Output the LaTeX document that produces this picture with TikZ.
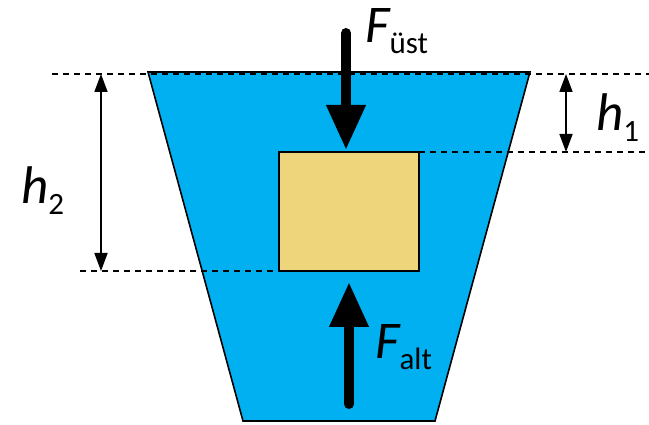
\documentclass[tikz,border=0pt]{standalone}
\usepackage{fontspec}
\setmainfont{Carlito}
\usetikzlibrary{arrows.meta}
\definecolor{waterblue}{HTML}{00B0F0}
\definecolor{boxyellow}{HTML}{EED57B}
\newcommand\sublbl[2]{{\fontsize{53}{53}\selectfont\itshape #1}{\fontsize{31}{31}\selectfont\raisebox{-11pt}{#2}}}
\begin{document}
\begin{tikzpicture}[x=1pt,y=-1pt,
  waterstyle/.style={fill=waterblue,draw=black,line width=1.6pt,line join=miter},
  blockstyle/.style={fill=boxyellow,draw=black,line width=1.5pt,minimum width=140pt,minimum height=119pt,inner sep=0pt},
  dashline/.style={draw=black,line width=1.6pt,dash pattern=on 6pt off 5pt},
  dimarrow/.style={draw=black,line width=1.6pt,{Triangle[width=13pt,length=18pt]}-{Triangle[width=13pt,length=18pt]}},
  forcearrow/.style={draw=black,line width=10pt,line cap=round,-{Triangle[width=37pt,length=45pt]}},
  lbl/.style={inner sep=0pt,anchor=base west}]
\useasboundingbox (0,0) rectangle (649,425);
% water
\draw[waterstyle] (148,72) -- (530,72) -- (435,421) -- (243,421) -- cycle;
% block
\node[blockstyle] (block) at (349,211.5) {};
% reference coordinates
\coordinate (topL) at (52,74);
\coordinate (topR) at (649,74);
\coordinate (midL) at (419,152);
\coordinate (midR) at (649,152);
\coordinate (botL) at (80,271);
\coordinate (botR) at (340,271);
\draw[dashline] (topL) -- (topR);
\draw[dashline] (midL) -- (midR);
\draw[dashline] (botL) -- (botR);
% dimension arrows
\coordinate (h2a) at (101,74);
\coordinate (h2b) at (101,271);
\coordinate (h1a) at (566,74);
\coordinate (h1b) at (566,152);
\draw[dimarrow] (h2a) -- (h2b);
\draw[dimarrow] (h1a) -- (h1b);
% forces
\coordinate (fu0) at (346,33);
\coordinate (fu1) at (346,150);
\coordinate (fa0) at (349,404);
\coordinate (fa1) at (349,282);
\draw[forcearrow] (fu0) -- (fu1);
\draw[forcearrow] (fa0) -- (fa1);
% labels
\node[lbl] (Fust) at (365,43) {\sublbl{F}{üst}};
\node[lbl] (Falt) at (375,359) {\sublbl{F}{alt}};
\node[lbl] (h2) at (21,204) {\sublbl{h}{2}};
\node[lbl] (h1) at (596,131) {\sublbl{h}{1}};
\end{tikzpicture}
\end{document}
